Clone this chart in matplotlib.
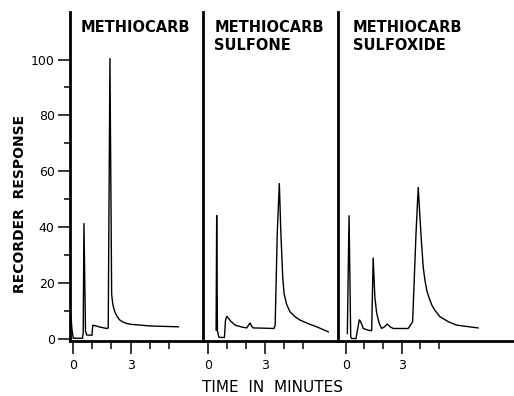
import matplotlib

matplotlib.use("Agg")
import matplotlib.pyplot as plt
from matplotlib.ticker import FixedLocator, NullFormatter

# chromatogram traces (time in minutes, recorder response)
TIME_METHIOCARB = [-0.12, -0.06, 0.0, 0.48, 0.52, 0.56, 0.64, 0.70, 0.87, 0.98, 1.02,
                   1.40, 1.75, 1.83, 1.92, 2.01, 2.06, 2.10, 2.18, 2.30, 2.44, 2.60,
                   2.80, 3.00, 3.50, 4.01, 5.50]
RESP_METHIOCARB = [8, 3, 0.3, 0.3, 2.1, 41.5, 3, 1.5, 1.4, 1.4, 5.0,
                   4.3, 3.8, 4.0, 100.5, 16, 13, 11.5, 9.7, 8, 6.8, 6.1,
                   5.6, 5.3, 5.0, 4.7, 4.4]

TIME_SULFONE = [0.44, 0.47, 0.51, 0.58, 0.62, 0.88, 0.93, 1.00, 1.20, 1.44, 1.80,
                2.05, 2.15, 2.23, 2.32, 2.40, 3.00, 3.49, 3.55, 3.66, 3.77, 3.84,
                3.95, 4.02, 4.15, 4.33, 4.60, 4.86, 5.30, 5.74, 6.35]
RESP_SULFONE = [3.2, 44.3, 3, 0.8, 0.6, 0.6, 6.5, 8.2, 6.5, 5.0, 4.3,
                4.0, 5.0, 5.8, 4.5, 4.0, 3.9, 3.8, 5.0, 37.7, 55.8, 40,
                22, 16.3, 12.5, 9.8, 8, 6.8, 5.5, 4.4, 2.6]

TIME_SULFOXIDE = [0.09, 0.18, 0.27, 0.32, 0.55, 0.73, 0.85, 0.94, 1.20, 1.39, 1.47,
                  1.56, 1.66, 1.80, 1.92, 2.10, 2.22, 2.40, 2.54, 3.34, 3.58, 3.76,
                  3.88, 3.97, 4.05, 4.15, 4.24, 4.35, 4.50, 4.62, 4.75, 5.04, 5.50,
                  5.93, 6.50, 7.08]
RESP_SULFOXIDE = [2, 44.3, 0.8, 0.2, 0.2, 7.0, 5.5, 3.8, 3.2, 3.0, 29.2,
                  15, 9.2, 5.5, 3.8, 4.5, 5.4, 4.3, 3.8, 3.8, 6.2, 37.7,
                  54.4, 43.7, 35, 25.5, 21, 17, 14, 12, 10.5, 8, 6.2,
                  5, 4.5, 4]

PANEL_TITLES = ["METHIOCARB", "METHIOCARB\nSULFONE", "METHIOCARB\nSULFOXIDE"]
Y_MAJOR = [0, 20, 40, 60, 80, 100]
Y_MINOR = [10, 30, 50, 70, 90]
X_MAJOR = [0, 3]
X_MINOR = [1, 2, 4, 5]

W, H = 514, 396
# panel edges in pixels: (left, right, time at left edge, time at right edge)
PANELS = [
    (70, 203, -0.17, 6.79),
    (203, 338, -0.25, 6.86),
    (338, 514, -0.41, 9.0),
]
TOP_PX, BOTTOM_PX = 12, 340.5


def add_panel(fig, idx, times, resp):
    left, right, t0, t1 = PANELS[idx]
    ax = fig.add_axes([left / W, 1 - BOTTOM_PX / H, (right - left) / W,
                       (BOTTOM_PX - TOP_PX) / H])
    ax.plot(times, resp, color="black", linewidth=1.0, solid_joinstyle="miter")
    ax.set_xlim(t0, t1)
    ax.set_ylim(-0.5, 117)
    for side in ("top", "right"):
        ax.spines[side].set_visible(False)
    ax.spines["left"].set_linewidth(2.0)
    ax.spines["bottom"].set_linewidth(2.0)

    ax.xaxis.set_major_locator(FixedLocator(X_MAJOR))
    ax.xaxis.set_minor_locator(FixedLocator(X_MINOR))
    ax.xaxis.set_minor_formatter(NullFormatter())
    ax.tick_params(axis="x", which="major", length=9, width=1.1, pad=4, labelsize=9)
    ax.tick_params(axis="x", which="minor", length=5.5, width=1.1)

    if idx == 0:
        ax.yaxis.set_major_locator(FixedLocator(Y_MAJOR))
        ax.yaxis.set_minor_locator(FixedLocator(Y_MINOR))
        ax.yaxis.set_minor_formatter(NullFormatter())
        ax.tick_params(axis="y", which="major", length=9, width=1.1, pad=2, labelsize=9)
        ax.tick_params(axis="y", which="minor", length=4, width=1.1)
    else:
        ax.set_yticks([])

    ax.text(0.085 if idx else 0.08, 0.975, PANEL_TITLES[idx], transform=ax.transAxes,
            ha="left", va="top", fontsize=10.5, fontweight="bold", linespacing=1.2)
    return ax


def main():
    plt.rcParams.update({"font.family": ["DejaVu Sans"]})
    fig = plt.figure(figsize=(W / 100, H / 100), dpi=100)
    add_panel(fig, 0, TIME_METHIOCARB, RESP_METHIOCARB)
    add_panel(fig, 1, TIME_SULFONE, RESP_SULFONE)
    add_panel(fig, 2, TIME_SULFOXIDE, RESP_SULFOXIDE)
    fig.text(20 / W, 1 - 204 / H, "RECORDER  RESPONSE", rotation=90, ha="center",
             va="center", fontsize=10, fontweight="bold")
    fig.text(273 / W, 1 - 387 / H, "TIME  IN  MINUTES", ha="center", va="center",
             fontsize=11)
    fig.savefig("out.png", dpi=100)
    plt.close(fig)


if __name__ == "__main__":
    main()
